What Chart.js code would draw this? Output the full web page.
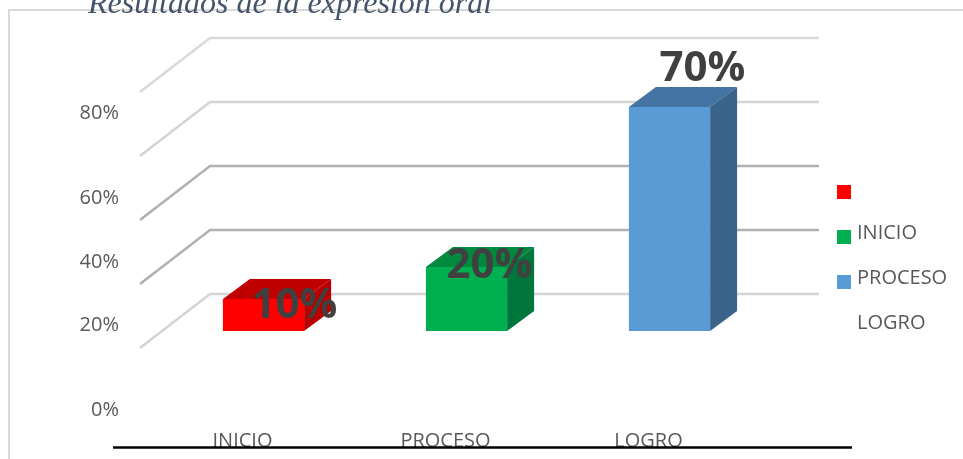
<!DOCTYPE html>
<html>
<head>
<meta charset="utf-8">
<script src="https://cdn.jsdelivr.net/npm/chart.js@4.4.1/dist/chart.umd.min.js"></script>
<style>
  html, body { margin: 0; padding: 0; background: #ffffff; }
  #wrap { width: 963px; height: 459px; }
</style>
</head>
<body>
<div id="wrap"><canvas id="c" width="963" height="459"></canvas></div>
<script>
// ---- data ----
const categories = ['INICIO', 'PROCESO', 'LOGRO'];
const values = [10, 20, 70];
const valueLabels = ['10%', '20%', '70%'];
const frontColors = ['#FF0000', '#00B050', '#5B9BD5'];
const topColors = ['#C00000', '#008A3E', '#4374A3'];
const sideColors = ['#B80000', '#00763A', '#3A6489'];
const gridValues = [0, 20, 40, 60, 80];
const yTickLabels = ['0%', '20%', '40%', '60%', '80%'];
const legendLabels = ['', 'INICIO', 'PROCESO', 'LOGRO'];
const legendColors = ['#FF0000', '#00B050', '#5B9BD5', null];
const titleText = 'Resultados de la expresión oral';

const DEPTH = { dx: 27, dy: -20 };
const FONT = '"Open Sans", "Noto Sans", sans-serif';

const decor = {
  id: 'decor',
  beforeDraw(chart) {
    const ctx = chart.ctx;
    ctx.save();
    ctx.fillStyle = '#ffffff';
    ctx.fillRect(0, 0, chart.width, chart.height);
    // frame
    ctx.strokeStyle = '#D9D9D9';
    ctx.lineWidth = 2;
    ctx.beginPath();
    ctx.moveTo(9, chart.height);
    ctx.lineTo(9, 10);
    ctx.lineTo(chart.width, 10);
    ctx.stroke();
    // title (cut at top)
    ctx.fillStyle = '#44546A';
    ctx.font = 'italic 32px "Liberation Serif", serif';
    ctx.textBaseline = 'alphabetic';
    ctx.textAlign = 'left';
    ctx.fillText(titleText, 88, 13);
    ctx.restore();
  },
  beforeDatasetsDraw(chart) {
    const ctx = chart.ctx;
    const y = chart.scales.y;
    const a = chart.chartArea;
    const gridColors = ['#D4D4D4', '#B0B0B0', '#B0B0B0', '#D4D4D4', '#D9D9D9'];
    ctx.save();
    ctx.lineWidth = 2.5;
    gridValues.forEach((v, i) => {
      const yp = y.getPixelForValue(v);
      const backY = yp - 37;
      ctx.strokeStyle = gridColors[i];
      ctx.beginPath();
      ctx.moveTo(a.left - 22, yp + 17);
      ctx.lineTo(a.left + 48, backY);
      ctx.lineTo(a.right + 48, backY);
      ctx.stroke();
    });
    ctx.restore();
  },
  afterDatasetsDraw(chart) {
    const ctx = chart.ctx;
    const meta = chart.getDatasetMeta(0);
    ctx.save();
    meta.data.forEach((bar, i) => {
      const p = bar.getProps(['x', 'y', 'base', 'width'], true);
      const l = p.x - p.width / 2, r = p.x + p.width / 2;
      const dx = DEPTH.dx, dy = DEPTH.dy;
      // top face
      ctx.fillStyle = topColors[i];
      ctx.beginPath();
      ctx.moveTo(l, p.y);
      ctx.lineTo(l + dx, p.y + dy);
      ctx.lineTo(r + dx, p.y + dy);
      ctx.lineTo(r, p.y);
      ctx.closePath();
      ctx.fill();
      // side face
      ctx.fillStyle = sideColors[i];
      ctx.beginPath();
      ctx.moveTo(r, p.y);
      ctx.lineTo(r + dx, p.y + dy);
      ctx.lineTo(r + dx, p.base + dy);
      ctx.lineTo(r, p.base);
      ctx.closePath();
      ctx.fill();
    });
    // value labels
    const offs = [[31, 7], [23, -1], [33, -38]];
    ctx.fillStyle = '#404040';
    ctx.font = 'bold 42px ' + FONT;
    ctx.textAlign = 'center';
    ctx.textBaseline = 'middle';
    meta.data.forEach((bar, i) => {
      ctx.fillText(valueLabels[i], bar.x + offs[i][0], bar.y + offs[i][1]);
    });
    ctx.restore();
  },
  afterDraw(chart) {
    const ctx = chart.ctx;
    const x = chart.scales.x;
    ctx.save();
    // y tick labels (positions as in reference)
    const yPos = [410, 325, 262, 198, 113];
    ctx.fillStyle = '#595959';
    ctx.font = '20px ' + FONT;
    ctx.textAlign = 'right';
    ctx.textBaseline = 'middle';
    yTickLabels.forEach((t, i) => ctx.fillText(t, 119, yPos[i]));
    // x category labels
    ctx.textAlign = 'center';
    ctx.textBaseline = 'alphabetic';
    categories.forEach((c, i) => {
      ctx.fillText(c, x.getPixelForValue(i) - 21, 447);
    });
    // bottom black rule
    ctx.strokeStyle = '#000000';
    ctx.lineWidth = 2.5;
    ctx.beginPath();
    ctx.moveTo(113, 447.5);
    ctx.lineTo(852, 447.5);
    ctx.stroke();
    // legend
    const rowY = [192, 237, 282, 327];
    ctx.textAlign = 'left';
    ctx.textBaseline = 'middle';
    legendLabels.forEach((t, i) => {
      if (legendColors[i]) {
        ctx.fillStyle = legendColors[i];
        ctx.fillRect(837, rowY[i] - 7, 14, 14);
      }
      ctx.fillStyle = '#595959';
      ctx.fillText(t, 857, rowY[i] - 4);
    });
    ctx.restore();
  }
};

new Chart(document.getElementById('c'), {
  type: 'bar',
  data: {
    labels: categories,
    datasets: [{
      data: values,
      backgroundColor: frontColors,
      borderWidth: 0,
      categoryPercentage: 1.0,
      barPercentage: 0.4
    }]
  },
  options: {
    responsive: false,
    animation: false,
    devicePixelRatio: 1,
    layout: { padding: { left: 162, right: 192, top: 11, bottom: 128 } },
    plugins: { legend: { display: false }, tooltip: { enabled: false }, title: { display: false } },
    scales: {
      x: { display: false, offset: true },
      y: { display: false, min: 0, max: 100 }
    }
  },
  plugins: [decor]
});
</script>
</body>
</html>
